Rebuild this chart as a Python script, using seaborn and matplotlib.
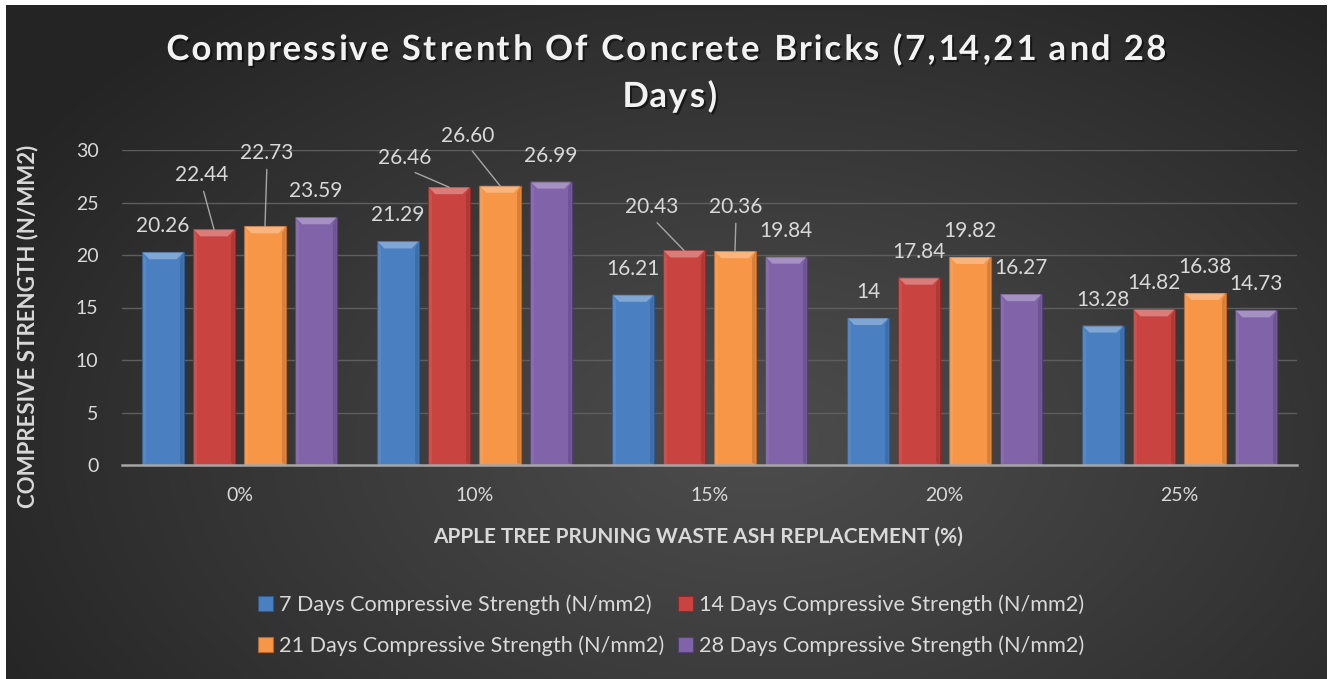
import numpy as np
import pandas as pd
import matplotlib
matplotlib.use("Agg")
import matplotlib.pyplot as plt
import seaborn as sns
from matplotlib.patches import Patch, Polygon
import matplotlib.patheffects as pe
from matplotlib.font_manager import findfont, FontProperties
from matplotlib.ft2font import FT2Font

# ---------------- data ----------------
categories = ["0%", "10%", "15%", "20%", "25%"]
series_names = [
    "7 Days Compressive Strength (N/mm2)",
    "14 Days Compressive Strength (N/mm2)",
    "21 Days Compressive Strength (N/mm2)",
    "28 Days Compressive Strength (N/mm2)",
]
days7 = [20.26, 21.29, 16.21, 14.00, 13.28]
days14 = [22.44, 26.46, 20.43, 17.84, 14.82]
days21 = [22.73, 26.60, 20.36, 19.82, 16.38]
days28 = [23.59, 26.99, 19.84, 16.27, 14.73]
yticks = [0, 5, 10, 15, 20, 25, 30]

title_line1 = "Compressive Strenth Of Concrete Bricks (7,14,21 and 28"
title_line2 = "Days)"
xlabel = "APPLE TREE PRUNING WASTE ASH REPLACEMENT (%)"
ylabel = "COMPRESIVE STRENGTH (N/MM2)"

colors = ["#4A80C2", "#C94441", "#F79646", "#8063A8"]
edge_colors = ["#2f5a8f", "#8f2a28", "#b8652a", "#553f78"]

# label placement tweaks (pixel offsets) for labels with leader lines
label_offsets = {
    (1, 0): (-12, 54), (2, 0): (2, 73),
    (1, 1): (-44, 29), (2, 1): (-32, 50),
    (1, 2): (-32, 43), (2, 2): (1, 44),
}

rows = []
for name, vals in zip(series_names, [days7, days14, days21, days28]):
    for c, v in zip(categories, vals):
        rows.append({"cat": c, "val": v, "series": name})
df = pd.DataFrame(rows)

# ---------------- figure ----------------
W, H = 1331, 679
DPI = 100
fig = plt.figure(figsize=(W / DPI, H / DPI), dpi=DPI)
fig.patch.set_facecolor("white")

# background radial gradient with white frame
bg = fig.add_axes([0, 0, 1, 1], zorder=-10)
yy, xx = np.mgrid[0:H, 0:W]
d = np.sqrt(((xx - 760) / 880.0) ** 2 + ((yy - 440) / 560.0) ** 2)
d = np.clip(d, 0, 1)
val = (0x4c - (0x4c - 0x24) * d ** 1.1) / 255.0
img = np.dstack([val, val, val])
img[:, :6] = 1.0
img[:5, :] = 1.0
img[:, W - 4:] = 1.0
bg.imshow(img, extent=[0, W, H, 0], aspect="auto", interpolation="bilinear")
bg.set_xlim(0, W)
bg.set_ylim(H, 0)
bg.axis("off")

sns.set_style("dark")
plt.rcParams["font.family"] = ["Lato", "DejaVu Sans"]

ax = fig.add_axes([122 / W, (H - 465) / H, 1175 / W, 315 / H])
ax.patch.set_alpha(0)

sns.barplot(data=df, x="cat", y="val", hue="series", palette=colors,
            hue_order=series_names, order=categories,
            width=0.868, gap=0.194, saturation=1, legend=False,
            errorbar=None, ax=ax, zorder=3)

ax.set_xlim(-0.5, 4.5)
ax.set_ylim(0, 30)
ax.set_yticks(yticks)
ax.set_yticklabels([str(t) for t in yticks])
ax.grid(False)
for t in yticks[1:]:
    ax.axhline(t, color="#5e5e5e", lw=1.0, zorder=1)
for s in ["top", "right", "left"]:
    ax.spines[s].set_visible(False)
ax.spines["bottom"].set_color("#a6a6a6")
ax.spines["bottom"].set_linewidth(1.8)
ax.spines["bottom"].set_zorder(5)
ax.tick_params(axis="both", length=0, colors="#d9d9d9", labelsize=14)
ax.tick_params(axis="y", pad=17)
ax.tick_params(axis="x", pad=16)
ax.set_xlabel("")
ax.set_ylabel("")

# bevel look & data labels
px_x = 1175 / 5.0
px_y = 315 / 30.0
bev_w = 7 / px_x
bev_h = 7 / px_y
for k, cont in enumerate(ax.containers):
    for i, p in enumerate(cont):
        p.set_edgecolor(edge_colors[k])
        p.set_linewidth(0.8)
        x0 = p.get_x()
        x1 = x0 + p.get_width()
        h = p.get_height()
        top = Polygon([(x0, h), (x1, h), (x1 - bev_w, h - bev_h), (x0 + bev_w, h - bev_h)],
                      closed=True, facecolor="white", alpha=0.30, lw=0, zorder=4)
        ax.add_patch(top)
        left = Polygon([(x0, 0), (x0, h), (x0 + bev_w * 0.5, h - bev_h), (x0 + bev_w * 0.5, bev_h * 0.3)],
                       closed=True, facecolor="white", alpha=0.07, lw=0, zorder=4)
        ax.add_patch(left)
        right = Polygon([(x1, 0), (x1, h), (x1 - bev_w * 0.5, h - bev_h), (x1 - bev_w * 0.5, bev_h * 0.3)],
                        closed=True, facecolor="black", alpha=0.14, lw=0, zorder=4)
        ax.add_patch(right)

        v = h
        txt = f"{v:.0f}" if abs(v - round(v)) < 1e-9 else f"{v:.2f}"
        cx = x0 + p.get_width() / 2
        dx, dy = label_offsets.get((k, i), (0, 26))
        kw = {}
        if (k, i) in label_offsets:
            kw["arrowprops"] = dict(arrowstyle="-", color="#a6a6a6", lw=1.0,
                                    shrinkA=2, shrinkB=0, relpos=(0.5, 0.0))
        ax.annotate(txt, xy=(cx, h), xytext=(dx, dy), textcoords="offset pixels",
                    ha="center", va="center", fontsize=15, color="#d9d9d9",
                    zorder=6, **kw)

# ---------------- title with letter spacing ----------------
TITLE_PT = 25
fpath = findfont(FontProperties(family="Lato", weight="bold"))
ft = FT2Font(fpath)
ft.set_size(TITLE_PT, DPI)


def char_metrics(ch):
    g = ft.load_char(ord(ch))
    return g.linearHoriAdvance / 65536.0, g.horiBearingX / 64.0


def tracked_text(s, center_x, center_y, target_width=None, tracking=0.0):
    mets = [char_metrics(c) for c in s]
    natural = sum(m[0] for m in mets)
    if target_width is not None and len(s) > 1:
        tracking = (target_width - natural) / (len(s) - 1)
    total = natural + tracking * (len(s) - 1)
    pen = center_x - total / 2.0
    shadow = [pe.withSimplePatchShadow(offset=(1.5, -1.5), shadow_rgbFace="black", alpha=0.5)]
    for c, (adv, lsb) in zip(s, mets):
        if c != " ":
            fig.text((pen + lsb) / W, 1 - center_y / H, c, ha="left", va="center",
                     fontsize=TITLE_PT, fontweight="bold", color="#f2f2f2",
                     family="Lato", path_effects=shadow)
        pen += adv + tracking
    return tracking


trk = tracked_text(title_line1, 665, 50, target_width=1000)
tracked_text(title_line2, 668, 97, tracking=trk)

fig.text(28 / W, 1 - 326 / H, ylabel, rotation=90, ha="center", va="center",
         fontsize=16, fontweight="bold", color="#d9d9d9")
fig.text(698 / W, 1 - 537 / H, xlabel, ha="center", va="center",
         fontsize=15, fontweight="bold", color="#d9d9d9")

# legend (row order: 7 | 14 ; 21 | 28)
handles = [Patch(facecolor=colors[j], edgecolor=edge_colors[j], lw=0.8) for j in range(4)]
order = [0, 2, 1, 3]
leg = fig.legend([handles[j] for j in order], [series_names[j] for j in order],
                 ncol=2, loc="center", bbox_to_anchor=(671 / W, 1 - 625 / H),
                 frameon=False, fontsize=15.6, labelcolor="#d9d9d9",
                 handlelength=0.7, handleheight=0.7, handletextpad=0.3,
                 columnspacing=0.6, labelspacing=0.95)

fig.savefig("out.png", dpi=DPI, facecolor=fig.get_facecolor())
